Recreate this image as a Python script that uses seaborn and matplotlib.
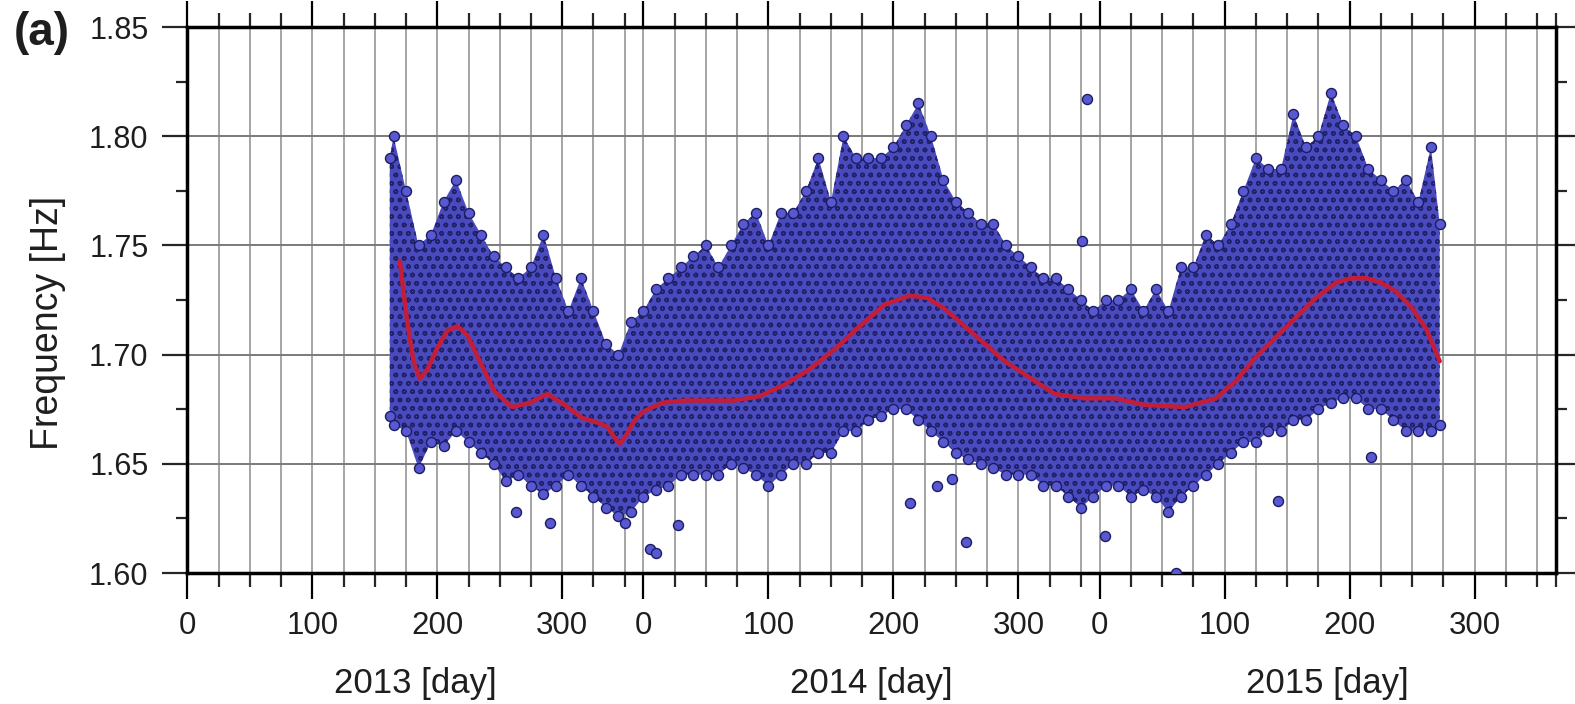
import numpy as np
import pandas as pd
import matplotlib
matplotlib.use("Agg")
import matplotlib.pyplot as plt
import matplotlib.transforms as mtransforms
from matplotlib.ticker import FixedLocator, FormatStrFormatter, MultipleLocator
import seaborn as sns

# ---------------- data (days counted from 2013-01-01, 365 per year) ----------------
years = [2013, 2014, 2015]
year_len = 365
major_day_labels = [0, 100, 200, 300]
minor_day_step = 25

# envelope of the dense point cloud
env_day = [162, 165, 175, 185, 195, 205, 215, 225, 235, 245,
           255, 265, 275, 285, 295, 305, 315, 325, 335, 345,
           355, 365, 375, 385, 395, 405, 415, 425, 435, 445,
           455, 465, 475, 485, 495, 505, 515, 525, 535, 545,
           555, 565, 575, 585, 595, 605, 615, 625, 635, 645,
           655, 665, 675, 685, 695, 705, 715, 725, 735, 745,
           755, 765, 775, 785, 795, 805, 815, 825, 835, 845,
           855, 865, 875, 885, 895, 905, 915, 925, 935, 945,
           955, 965, 975, 985, 995, 1002]
env_hi = [1.790, 1.800, 1.775, 1.750, 1.755, 1.770, 1.780, 1.765, 1.755, 1.745,
          1.740, 1.735, 1.740, 1.755, 1.735, 1.720, 1.735, 1.720, 1.705, 1.700,
          1.715, 1.720, 1.730, 1.735, 1.740, 1.745, 1.750, 1.740, 1.750, 1.760,
          1.765, 1.750, 1.765, 1.765, 1.775, 1.790, 1.770, 1.800, 1.790, 1.790,
          1.790, 1.795, 1.805, 1.815, 1.800, 1.780, 1.770, 1.765, 1.760, 1.760,
          1.750, 1.745, 1.740, 1.735, 1.735, 1.730, 1.725, 1.720, 1.725, 1.725,
          1.730, 1.720, 1.730, 1.720, 1.740, 1.740, 1.755, 1.750, 1.760, 1.775,
          1.790, 1.785, 1.785, 1.810, 1.795, 1.800, 1.820, 1.805, 1.800, 1.785,
          1.780, 1.775, 1.780, 1.770, 1.795, 1.760]
env_lo = [1.672, 1.668, 1.665, 1.648, 1.660, 1.658, 1.665, 1.660, 1.655, 1.650,
          1.642, 1.645, 1.640, 1.636, 1.640, 1.645, 1.640, 1.635, 1.630, 1.626,
          1.628, 1.635, 1.638, 1.640, 1.645, 1.645, 1.645, 1.645, 1.650, 1.648,
          1.645, 1.640, 1.645, 1.650, 1.650, 1.655, 1.655, 1.665, 1.665, 1.670,
          1.672, 1.675, 1.675, 1.670, 1.665, 1.660, 1.655, 1.652, 1.650, 1.648,
          1.645, 1.645, 1.645, 1.640, 1.640, 1.635, 1.630, 1.635, 1.640, 1.640,
          1.635, 1.638, 1.635, 1.628, 1.635, 1.640, 1.645, 1.650, 1.655, 1.660,
          1.660, 1.665, 1.665, 1.670, 1.670, 1.675, 1.678, 1.680, 1.680, 1.675,
          1.675, 1.670, 1.665, 1.665, 1.665, 1.668]

# isolated points outside the dense cloud
out_day = [263, 290, 350, 370, 375, 393, 578, 600, 612, 623, 716, 720, 734, 791, 873, 947]
out_val = [1.628, 1.623, 1.623, 1.611, 1.609, 1.622, 1.632, 1.640, 1.643, 1.614,
           1.752, 1.817, 1.617, 1.600, 1.633, 1.653]

# smoothed trend (red curve)
curve_day = [170, 176, 181, 186, 192, 200, 208, 216, 224, 234,
             246, 260, 274, 288, 302, 316, 328, 336, 342, 346,
             352, 358, 365, 380, 398, 418, 438, 458, 477, 497,
             517, 538, 558, 578, 592, 606, 622, 638, 654, 670,
             694, 718, 742, 766, 798, 823, 839, 855, 871, 887,
             903, 919, 931, 943, 955, 967, 979, 991, 1002]
curve_val = [1.743, 1.715, 1.697, 1.689, 1.693, 1.703, 1.711, 1.713, 1.709, 1.697,
             1.683, 1.676, 1.678, 1.682, 1.677, 1.671, 1.669, 1.667, 1.662, 1.659,
             1.664, 1.670, 1.674, 1.678, 1.679, 1.679, 1.679, 1.681, 1.686, 1.693,
             1.702, 1.713, 1.723, 1.727, 1.726, 1.721, 1.713, 1.705, 1.697, 1.691,
             1.682, 1.680, 1.680, 1.677, 1.676, 1.680, 1.688, 1.699, 1.708, 1.717,
             1.726, 1.733, 1.735, 1.735, 1.733, 1.729, 1.722, 1.712, 1.697]

# ---------------- style ----------------
sns.set_theme(style="white")
plt.rcParams['font.family'] = ['Liberation Sans', 'DejaVu Sans']
plt.rcParams['hatch.linewidth'] = 1.1

fig = plt.figure(figsize=(15.75, 7.04), dpi=100)
ax = fig.add_axes([0.1189, 0.186, 0.869, 0.7756])

pt_face = '#5858d0'
pt_edge = '#1c1c62'
txt = '#1e1e1e'

# dense cloud body
ax.fill_between(env_day, env_lo, env_hi, facecolor='#4a4abf', edgecolor='#22226c',
                hatch='oo', linewidth=0, zorder=2)

pts = pd.DataFrame({
    'day': env_day + env_day + out_day,
    'freq': env_hi + env_lo + out_val,
})
sns.scatterplot(data=pts, x='day', y='freq', ax=ax, s=52, color=pt_face,
                edgecolor=pt_edge, linewidth=1.0, zorder=3, legend=False)

sns.lineplot(x=curve_day, y=curve_val, ax=ax, color='#c41d38', linewidth=3.2,
             zorder=4, sort=False)

# ---------------- axes ----------------
n_years = len(years)
ax.set_xlim(0, n_years * year_len)
ax.set_ylim(1.60, 1.85)

major_pos, major_lab, minor_pos = [], [], []
for i, yr in enumerate(years):
    start = i * year_len
    for d in major_day_labels:
        major_pos.append(start + d)
        major_lab.append(str(d))
    for d in range(0, year_len, minor_day_step):
        if d not in major_day_labels:
            minor_pos.append(start + d)
ax.xaxis.set_major_locator(FixedLocator(major_pos))
ax.set_xticklabels(major_lab)
ax.xaxis.set_minor_locator(FixedLocator(minor_pos + [n_years * year_len]))

ax.yaxis.set_major_locator(MultipleLocator(0.05))
ax.yaxis.set_minor_locator(MultipleLocator(0.025))
ax.yaxis.set_major_formatter(FormatStrFormatter('%.2f'))

ax.xaxis.grid(True, which='both', color='#a5a5a5', linewidth=1.4, zorder=0)
ax.yaxis.grid(True, which='major', color='#7a7a7a', linewidth=1.4, zorder=0)
ax.set_axisbelow(True)

ax.tick_params(axis='x', which='major', direction='out', length=19, width=1.6,
               top=True, bottom=True, labelsize=22.5, pad=8, colors='black',
               labelcolor=txt)
ax.tick_params(axis='x', which='minor', direction='out', length=10, width=1.6,
               top=True, bottom=True)
ax.tick_params(axis='y', which='major', direction='out', length=18, width=1.6,
               left=True, right=True, labelsize=22, pad=10, labelcolor=txt)
ax.tick_params(axis='y', which='minor', direction='out', length=8, width=1.6,
               left=True, right=True)

for sp in ax.spines.values():
    sp.set_linewidth(2.5)
    sp.set_color('black')

ax.set_xlabel('')
ax.set_ylabel('Frequency [Hz]', fontsize=27, color=txt)
ax.yaxis.set_label_coords(-0.0886, 0.458)

trans = mtransforms.blended_transform_factory(ax.transData, ax.transAxes)
for i, yr in enumerate(years):
    ax.text(i * year_len + year_len / 2, -0.2015, f'{yr} [day]', transform=trans,
            ha='center', va='center', fontsize=25, color=txt)

fig.text(42 / 1575, 1 - 33 / 704, '(a)', fontsize=33, fontweight='bold',
         ha='center', va='center', color=txt)

fig.savefig('out.png', dpi=100)
